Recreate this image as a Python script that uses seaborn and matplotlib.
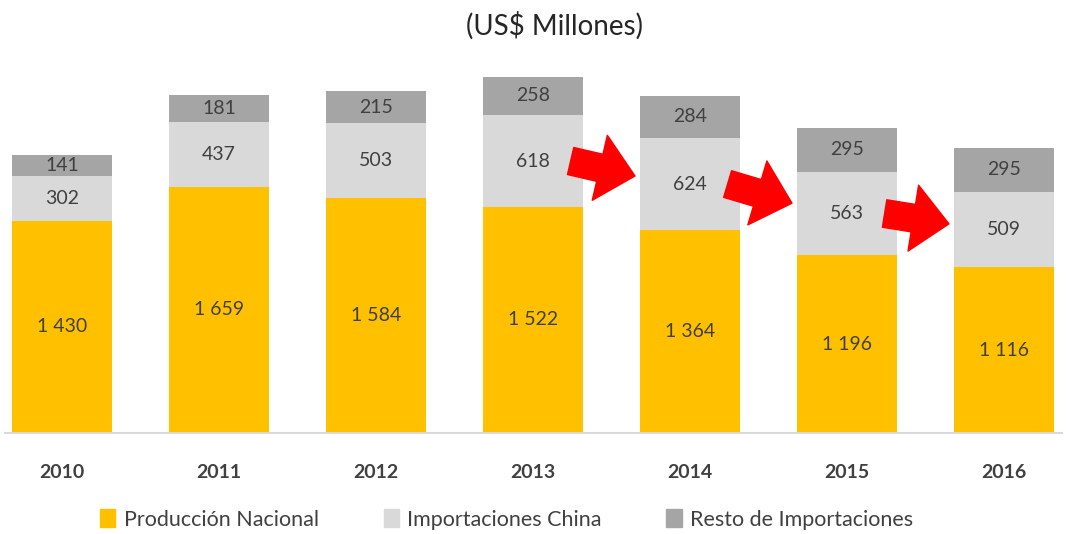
import matplotlib
matplotlib.use("Agg")
import matplotlib.pyplot as plt
from matplotlib.patches import Patch
import seaborn as sns
import pandas as pd

# data
years = ["2010", "2011", "2012", "2013", "2014", "2015", "2016"]
produccion = [1430, 1659, 1584, 1522, 1364, 1196, 1116]
china = [302, 437, 503, 618, 624, 563, 509]
resto = [141, 181, 215, 258, 284, 295, 295]

c_prod = "#FFC000"
c_china = "#D9D9D9"
c_resto = "#A5A5A5"
txt = "#404040"

df = pd.DataFrame({"year": years, "prod": produccion, "china": china, "resto": resto})
df["lvl2"] = df["prod"] + df["china"]
df["lvl3"] = df["lvl2"] + df["resto"]
df["mid_china"] = df["prod"] + df["china"] / 2

sns.set_style("white")
plt.rcParams["font.family"] = ["Lato", "DejaVu Sans"]

fig = plt.figure(figsize=(10.67, 5.34), dpi=100)
ax = fig.add_axes([5 / 1067, 101 / 534, 1057 / 1067, 373 / 534])

# stacked look: draw totals first, then overlay lower layers
for col, c in [("lvl3", c_resto), ("lvl2", c_china), ("prod", c_prod)]:
    sns.barplot(data=df, x="year", y=col, color=c, width=0.64, saturation=1,
                linewidth=0, edgecolor=c, ax=ax)

def fmt(v):
    return f"{v:,}".replace(",", " ")

for i, r in df.iterrows():
    ax.text(i, r["prod"] / 2, fmt(r["prod"]), ha="center", va="center", fontsize=14, color=txt)
    ax.text(i, r["mid_china"], fmt(r["china"]), ha="center", va="center", fontsize=14, color=txt)
    ax.text(i, r["lvl2"] + r["resto"] / 2, fmt(r["resto"]), ha="center", va="center", fontsize=14, color=txt)

# red arrows from 2013 on, between the China segments
for i in [3, 4, 5]:
    y0 = df["mid_china"][i]
    y1 = 0.35 * y0 + 0.65 * df["mid_china"][i + 1]
    ax.annotate("", xy=(i + 0.65, y1), xytext=(i + 0.24, y0),
                arrowprops=dict(arrowstyle="simple,head_width=2.4,head_length=1.3,tail_width=1.0",
                                color="#FF0000", mutation_scale=20, shrinkA=0, shrinkB=0))

ax.set_xlim(-0.363, 6.37)
ax.set_ylim(0, 2511)
ax.set_yticks([])
ax.set_xlabel("")
ax.set_ylabel("")
for s in ["top", "right", "left"]:
    ax.spines[s].set_visible(False)
ax.spines["bottom"].set_color("#D9D9D9")
ax.spines["bottom"].set_linewidth(1.5)
ax.tick_params(axis="x", length=0, pad=22)
for lab in ax.get_xticklabels():
    lab.set_fontsize(14)
    lab.set_fontweight("bold")
    lab.set_color(txt)

fig.text(0.52, 0.952, "(US$ Millones)", ha="center", va="center", fontsize=20, color="#262626")

handles = [Patch(color=c_prod, label="Producción Nacional"),
           Patch(color=c_china, label="Importaciones China"),
           Patch(color=c_resto, label="Resto de Importaciones")]
leg = fig.legend(handles=handles, loc="center", bbox_to_anchor=(0.475, 0.027), ncol=3, frameon=False,
                 fontsize=15.5, handlelength=0.7, handleheight=0.9, columnspacing=3.0, handletextpad=0.4)
for t in leg.get_texts():
    t.set_color(txt)

fig.savefig("out.png", dpi=100)
